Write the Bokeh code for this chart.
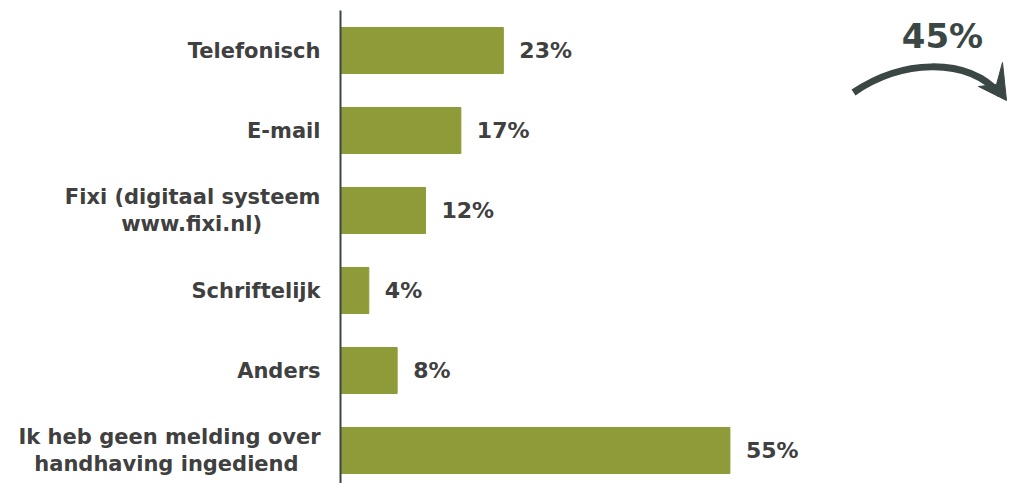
from bokeh.plotting import figure
from bokeh.models import Range1d, ColumnDataSource, FixedTicker
from bokeh.core.properties import value
from bokeh.embed import file_html
from bokeh.resources import INLINE

categories = ["Telefonisch", "E-mail", "Fixi (digitaal systeem\nwww.fixi.nl)", "Schriftelijk",
              "Anders", "Ik heb geen melding over\nhandhaving ingediend"]
values = [23, 17, 12, 4, 8, 55]
value_labels = ["23%", "17%", "12%", "4%", "8%", "55%"]
summary_label = "45%"

BAR = "#8F9A39"
TXT = "#404040"
DARK = "#3a4744"
FONT = "DejaVu Sans"
FS = 21

pos = list(range(len(categories)))
src = ColumnDataSource(dict(y=pos, v=values, lab=value_labels))

W, H = 1009, 483
px_per = 7.08
left, top = 340, 10
x_end = (W - left) / px_per
y_end = -0.5 + (H - top) / 80.0

p = figure(width=W, height=H, output_backend="svg", toolbar_location=None,
           x_range=Range1d(0, x_end), y_range=Range1d(y_end, -0.5),
           min_border_left=left, min_border_right=0, min_border_top=top, min_border_bottom=0)
p.outline_line_color = None
p.grid.grid_line_color = None
p.xaxis.visible = False

p.hbar(y="y", right="v", left=0, height=0.575, color=BAR, source=src)
p.text(x="v", y="y", text="lab", source=src, x_offset=16, text_align="left", text_baseline="middle",
       text_font=value(FONT), text_font_style="bold", text_font_size="22px", text_color=TXT)

# the axis right-aligns each line; pad the short second line with no-break spaces so it
# sits centred under the first one, as in the reference
pad = {2: 8, 5: 3}
def tick_text(i, c):
    if "\n" in c:
        a, b = c.split("\n")
        return a + "\n" + b + "\u00a0" * pad.get(i, 0)
    return c

ya = p.yaxis[0]
ya.ticker = FixedTicker(ticks=pos)
ya.major_label_overrides = {i: tick_text(i, c) for i, c in enumerate(categories)}
ya.major_label_text_font = FONT
ya.major_label_text_font_style = "bold"
ya.major_label_text_font_size = f"{FS}px"
ya.major_label_text_color = TXT
ya.major_label_text_line_height = 1.15
ya.major_label_standoff = 14
ya.major_tick_line_color = None
ya.minor_tick_line_color = None
ya.axis_line_color = DARK
ya.axis_line_width = 2

# decorative arrow (screen-derived positions)
def sx(v):
    return (v - left) / px_per
def sy(v):
    return -0.5 + (v - top) / 80.0

p.bezier(x0=[sx(853)], y0=[sy(92)], x1=[sx(1000)], y1=[sy(94)],
         cx0=[sx(900)], cy0=[sy(60)], cx1=[sx(965)], cy1=[sy(55)],
         line_color=DARK, line_width=7)
p.patch(x=[sx(1006), sx(978), sx(996), sx(1002)], y=[sy(100), sy(86), sy(84), sy(62)],
        color=DARK)
p.text(x=[sx(942)], y=[sy(35)], text=[summary_label], text_align="center", text_baseline="middle",
       text_font=value(FONT), text_font_style="bold", text_font_size="34px", text_color=DARK)

open("out.html", "w").write(file_html(p, INLINE))
